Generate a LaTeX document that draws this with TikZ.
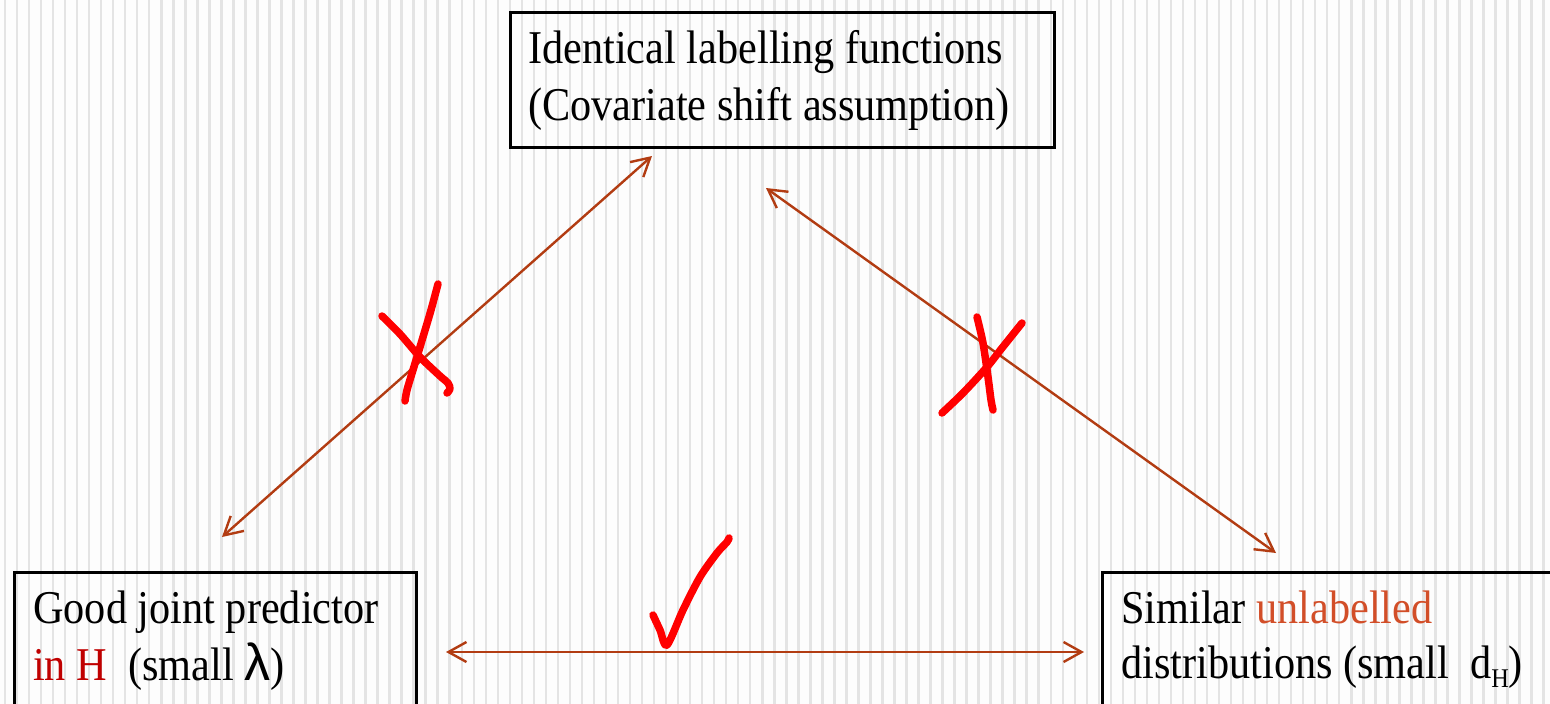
\documentclass[tikz,border=0pt]{standalone}
\usepackage{fontspec}
\setmainfont{Liberation Serif}[FakeStretch=0.9]
\newfontfamily\lamfont{Liberation Sans}
\usetikzlibrary{arrows.meta}
\definecolor{arrowc}{RGB}{178,60,18}
\definecolor{hred}{RGB}{192,0,0}
\definecolor{orangered}{RGB}{210,78,40}
\definecolor{stripe}{RGB}{228,228,228}
\definecolor{bg}{RGB}{253,253,253}
\begin{document}
\begin{tikzpicture}[x=1pt,y=-1pt,
  box/.style={draw=black, line width=2.5pt, rectangle, anchor=north west, inner sep=0pt},
  txt/.style={anchor=base west, inner sep=0pt, font=\fontsize{47}{57}\selectfont},
  link/.style={draw=arrowc, line width=2.4pt, {Straight Barb[length=18pt,width=20pt]}-{Straight Barb[length=18pt,width=20pt]}},
  redpen/.style={draw=red, line width=7.5pt, line cap=round, line join=round}]
\useasboundingbox (0,0) rectangle (1550,704);
\clip (0,0) rectangle (1550,704);
% background stripes
\fill[bg] (0,0) rectangle (1550,704);
\foreach \i in {0,...,128} \fill[stripe] ({5+12.02*\i-1.25},0) rectangle ++(2.5,704);
% boxes
\node[box, minimum width=544pt, minimum height=135pt] (top) at (509,11) {};
\node[box, minimum width=402pt, minimum height=200pt] (left) at (13,571) {};
\node[box, minimum width=500pt, minimum height=200pt] (right) at (1101,571) {};
% texts
\node[txt] (topA) at (528,63) {Identical labelling functions};
\node[txt] (topB) at (528,120) {(Covariate shift assumption)};
\node[txt] (leftA) at (33,623) {Good joint predictor};
\node[txt] (leftB) at (33,680) {\textcolor{hred}{in H}\ \ (small {\lamfont\fontsize{52}{57}\selectfont λ})};
\node[txt] (rightA) at (1121,623) {Similar \textcolor{orangered}{unlabelled}};
\node[txt] (rightB) at (1121,678) {distributions (small\ \ d\raisebox{-9pt}{\fontsize{27}{27}\selectfont H})};
% connectors
\coordinate (a1) at (222,537);
\coordinate (a2) at (652,156);
\coordinate (b1) at (766,188);
\coordinate (b2) at (1276,553);
\coordinate (c1) at (446,652);
\coordinate (c2) at (1084,652);
\draw[link] (a1) -- (a2);
\draw[link] (b1) -- (b2);
\draw[link] (c1) -- (c2);
% red marks
\draw[redpen] plot[smooth] coordinates {(382,316) (400,334) (420,357) (440,376) (448,383) (450,389) (447,393)};
\draw[redpen] plot[smooth] coordinates {(438,284) (431,310) (423,337) (413,370) (407,390) (405,401)};
\draw[redpen] plot[smooth] coordinates {(977,317) (983,343) (988,377) (991,400) (993,410)};
\draw[redpen] plot[smooth] coordinates {(1022,323) (1002,348) (987,367) (963,393) (942,413)};
\draw[redpen] plot[smooth] coordinates {(653,615) (660,630) (667,645) (683,610) (700,577) (717,553) (727,542) (729,538)};
\end{tikzpicture}
\end{document}
